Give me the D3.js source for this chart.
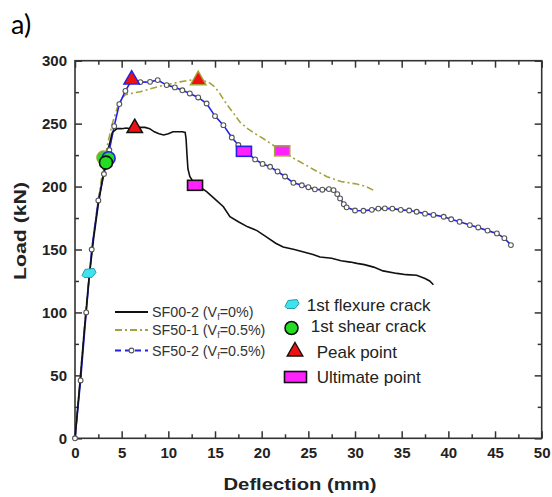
<!DOCTYPE html>
<html><head><meta charset="utf-8">
<script src="https://cdn.jsdelivr.net/npm/d3@7"></script>
<style>body{margin:0;background:#fff;} svg{display:block;font-family:"Liberation Sans",Arial,sans-serif;}</style>
</head><body><svg id="c" width="552" height="497"></svg>
<script>
// ---- data ----
const xTicks = [0,5,10,15,20,25,30,35,40,45,50];
const yTicks = [0,50,100,150,200,250,300];

const sf002X = [0,0.5,1,1.5,2,2.5,3,3.5,4,4.5,5,5.5,6,6.5,7,7.5,8,8.5,9,9.5,10,10.5,11,11.5,11.8,11.9,12.0,12.1,12.3,12.9,13.5,14.1,15,15.9,16.6,17.5,18.5,19.5,20.5,21.5,22.3,23.5,24.5,25.5,26.25,27.5,28.5,29.5,30.2,31,32,33,34.5,35.5,36.6,37.5,38,38.4];
const sf002Y = [0,42,86,127,159,186,208,228,243,246,246,246.5,246,246.5,247,247,246,243.5,242,241,242,243.5,243.5,243.5,243,238,225,214,208,201,199,196,190,184,176,172,168,165,160,155,152,150,148,146,144,143,141,140,139,138,136,133,131,130,129.5,127,125,122];

const sf501X = [0,0.5,1,1.5,2,2.5,3,3.5,4,4.5,5,5.4,6,7,8,9.1,10.2,11.25,12.3,13.2,14.3,15,15.5,16.2,17,17.7,18.5,19.3,20.2,21.2,22.2,23.3,24.5,25.7,27,28.5,30.2,31.2,32];
const sf501Y = [0,42,88,128,162,190,214,234,250,262,270,273,274,275.3,277.5,279.8,281.5,283.2,284.5,285,283,279,274,266,258,251,246,242,238,233,228.4,223,218,213,207.8,204,202,200,197];

const sf502X = [0,0.6,1.2,1.79,2.5,3.1,3.68,4.2,4.75,5.4,6.07,7.0,8.04,8.86,9.82,10.7,11.5,12.3,13.2,14.1,15.0,15.9,16.8,17.5,18.2,19.3,20.1,20.9,21.7,22.5,23.4,24.3,25.0,25.7,26.5,27.2,27.7,28.1,28.4,28.8,29.1,30.0,30.9,31.8,32.5,33.2,34.0,34.9,35.8,36.6,37.5,38.4,39.5,40.3,41.2,42.3,43.2,44.2,45.2,46.0,46.7];
const sf502Y = [0,46,100,150,189,210,229,248,265.5,276,284.6,283,283.2,284.6,280.6,278.8,276.5,274,270.8,266,256,248.8,239,233,228.4,221.6,218,215.7,212,208,203,201,199.5,197.8,197.5,198,197.2,194,190.6,186,183.5,181,180.8,181.5,182.5,182.7,182.5,181.5,181,180,178.5,177.5,176,174,172,169.4,167.5,165,162.8,159,153.5];

const seriesNames = ["SF00-2", "SF50-1", "SF50-2"];
const seriesVf = ["0%", "0.5%", "0.5%"];
const markerNames = ["1st flexure crack", "1st shear crack", "Peak point", "Ultimate point"];

// markers: order black, olive, blue
const flexureX = [1.5];
const flexureY = [131];
const shearX = [3.05, 3.6, 3.32];
const shearY = [223, 222.5, 219];
const shearSeries = [1, 2, 0];
const peakX = [6.4, 6.07, 13.2];
const peakY = [246.5, 285, 284.5];
const peakSeries = [0, 2, 1];
const ultX = [12.86, 18.1, 22.2];
const ultY = [201, 228, 228.4];
const ultSeries = [0, 2, 1];

// ---- styling ----
const colors = ["#111111", "#a3a33c", "#2222e6"];
const svg = d3.select("#c");
const L = 75, R = 541.7, T = 60.7, B = 438.3;
const x = d3.scaleLinear().domain([0,50]).range([L,R]);
const y = d3.scaleLinear().domain([0,300]).range([B,T]);
const axisColor = "#333";

// title
svg.append("text").attr("x",11).attr("y",34).attr("font-family","Lato, 'Open Sans', sans-serif")
  .attr("font-size",27).attr("fill","#000").text("a)");

// axes
function styleAxis(g){ g.select(".domain").remove(); g.selectAll("line").attr("stroke",axisColor).attr("stroke-width",1.5);
  g.selectAll("text").attr("font-size",15).attr("font-weight","bold").attr("fill","#222").attr("font-family","'Liberation Sans',Arial,sans-serif"); }
const minorX = d3.range(2.5,50,5), minorY = d3.range(25,300,50);
svg.append("g").attr("transform",`translate(0,${B})`).call(d3.axisBottom(x).tickValues(xTicks).tickSize(-7).tickPadding(9)).call(styleAxis);
svg.append("g").attr("transform",`translate(0,${B})`).call(d3.axisBottom(x).tickValues(minorX).tickSize(-4).tickFormat("")).call(styleAxis);
svg.append("g").attr("transform",`translate(0,${T})`).call(d3.axisTop(x).tickValues(xTicks).tickSize(-7).tickFormat("")).call(styleAxis);
svg.append("g").attr("transform",`translate(0,${T})`).call(d3.axisTop(x).tickValues(minorX).tickSize(-4).tickFormat("")).call(styleAxis);
svg.append("g").attr("transform",`translate(${L},0)`).call(d3.axisLeft(y).tickValues(yTicks).tickSize(-7).tickPadding(8)).call(styleAxis);
svg.append("g").attr("transform",`translate(${L},0)`).call(d3.axisLeft(y).tickValues(minorY).tickSize(-4).tickFormat("")).call(styleAxis);
svg.append("g").attr("transform",`translate(${R},0)`).call(d3.axisRight(y).tickValues(yTicks).tickSize(-7).tickFormat("")).call(styleAxis);
svg.append("g").attr("transform",`translate(${R},0)`).call(d3.axisRight(y).tickValues(minorY).tickSize(-4).tickFormat("")).call(styleAxis);
svg.append("rect").attr("x",L).attr("y",T).attr("width",R-L).attr("height",B-T).attr("fill","none").attr("stroke",axisColor).attr("stroke-width",1.6);

// axis titles
svg.append("text").attr("x",300).attr("y",490).attr("text-anchor","middle").attr("font-size",17).attr("font-weight","bold")
  .attr("fill","#222").attr("textLength",153).attr("lengthAdjust","spacingAndGlyphs").text("Deflection (mm)");
svg.append("text").attr("transform","translate(26,231) rotate(-90)").attr("text-anchor","middle").attr("font-size",16).attr("font-weight","bold")
  .attr("fill","#222").attr("textLength",98).attr("lengthAdjust","spacingAndGlyphs").text("Load (kN)");

// lines
const line = d3.line().x(d=>x(d[0])).y(d=>y(d[1]));
const s0 = sf002X.map((v,i)=>[v,sf002Y[i]]);
const s1 = sf501X.map((v,i)=>[v,sf501Y[i]]);
const s2 = sf502X.map((v,i)=>[v,sf502Y[i]]);
const plot = svg.append("g");
plot.append("path").datum(s1).attr("d",line).attr("fill","none").attr("stroke",colors[1]).attr("stroke-width",1.6).attr("stroke-dasharray","7,3,2,3");
plot.append("path").datum(s2).attr("d",line).attr("fill","none").attr("stroke",colors[2]).attr("stroke-width",1.6);
plot.append("path").datum(s0).attr("d",line).attr("fill","none").attr("stroke",colors[0]).attr("stroke-width",1.6);
plot.selectAll("circle.m").data(s2).join("circle").attr("class","m").attr("cx",d=>x(d[0])).attr("cy",d=>y(d[1])).attr("r",2.4)
  .attr("fill","#fff").attr("stroke","#555").attr("stroke-width",1.1);

// markers
const flexPath = "M-7,2 L-4,-4 L5,-5 L7,-1 L3,4 L-5,4 Z";
flexureX.forEach((v,i)=>plot.append("path").attr("d",flexPath).attr("transform",`translate(${x(v)},${y(flexureY[i])})`)
  .attr("fill","#3fe3f0").attr("stroke","#2a9aa8").attr("stroke-width",1));
shearX.forEach((v,i)=>plot.append("circle").attr("cx",x(v)).attr("cy",y(shearY[i])).attr("r",6.5)
  .attr("fill","#22dd22").attr("stroke",colors[shearSeries[i]]).attr("stroke-width",1.6));
const tri = d3.symbol().type(d3.symbolTriangle).size(105);
peakX.forEach((v,i)=>plot.append("path").attr("d",tri()).attr("transform",`translate(${x(v)},${y(peakY[i])})`)
  .attr("fill","#ee1111").attr("stroke",colors[peakSeries[i]]).attr("stroke-width",1.4));
ultX.forEach((v,i)=>plot.append("rect").attr("x",x(v)-7.5).attr("y",y(ultY[i])-5).attr("width",15).attr("height",10)
  .attr("fill","#ff22ff").attr("stroke",colors[ultSeries[i]]).attr("stroke-width",1.6));

// legend (lines)
const legY = [312, 330, 350.5];
const dashes = [null, "7,3,2,3", "6,4"];
seriesNames.forEach((n,i)=>{
  const g = svg.append("g");
  g.append("line").attr("x1",115).attr("x2",148).attr("y1",legY[i]).attr("y2",legY[i]).attr("stroke",colors[i]).attr("stroke-width",1.8)
    .attr("stroke-dasharray",dashes[i]);
  if(i===2) g.append("circle").attr("cx",131.5).attr("cy",legY[i]).attr("r",2.4).attr("fill","#fff").attr("stroke","#555").attr("stroke-width",1.1);
  const t = g.append("text").attr("x",152).attr("y",legY[i]+5).attr("font-size",14.3).attr("fill","#333");
  t.append("tspan").text(n+" (V");
  t.append("tspan").attr("font-size",9).attr("dy",3).text("f");
  t.append("tspan").attr("dy",-3).text("="+seriesVf[i]+")");
});

// legend (markers)
const mY = [304.5, 326, 351.5, 377];
const mTX = [306.7, 310.7, 316.7, 316.7];
svg.append("path").attr("d",flexPath).attr("transform",`translate(292,${mY[0]})`).attr("fill","#3fe3f0").attr("stroke","#2a9aa8");
svg.append("circle").attr("cx",291.5).attr("cy",mY[1]+2).attr("r",6.5).attr("fill","#22dd22").attr("stroke","#111").attr("stroke-width",1.6);
svg.append("path").attr("d",tri()).attr("transform",`translate(295,${mY[2]})`).attr("fill","#ee1111").attr("stroke","#111").attr("stroke-width",1.4);
svg.append("rect").attr("x",284.5).attr("y",mY[3]-5.5).attr("width",22).attr("height",11).attr("fill","#ff22ff").attr("stroke","#111").attr("stroke-width",1.6);
markerNames.forEach((n,i)=>svg.append("text").attr("x",mTX[i]).attr("y",mY[i]+6).attr("font-size",17).attr("fill","#222").text(n));
</script></body></html>
